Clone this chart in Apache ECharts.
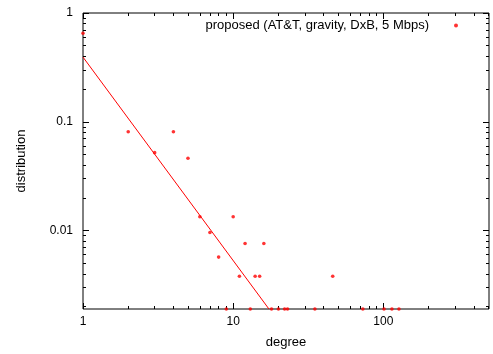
<!DOCTYPE html>
<html><head><meta charset="utf-8">
<script src="https://cdn.jsdelivr.net/npm/echarts@6/dist/echarts.min.js"></script>
<style>html,body{margin:0;padding:0;background:#fff}#c{width:493px;height:354px}</style>
</head><body><div id="c"></div>
<script>
// data
const degrees = [1, 2, 3, 4, 5, 6, 7, 8, 9, 10, 11, 12, 13, 14, 15, 16, 18, 20, 22, 23, 35, 46, 73, 101, 114, 127];
const distribution = [0.652, 0.081, 0.052, 0.081, 0.0462, 0.0134, 0.0096, 0.0057, 0.0019, 0.0134, 0.0038, 0.0076, 0.0019, 0.0038, 0.0038, 0.0076, 0.0019, 0.0019, 0.0019, 0.0019, 0.0019, 0.0038, 0.0019, 0.0019, 0.0019, 0.0019];
const fitX = [1, 17.3];
const fitY = [0.393, 0.0019];
const seriesName = 'proposed (AT&T, gravity, DxB, 5 Mbps)';
const xMajorTicks = [1, 10, 100];
const xTickLabels = ['1', '10', '100'];
const xMinorTicks = [2, 3, 4, 5, 6, 7, 8, 9, 20, 30, 40, 50, 60, 70, 80, 90, 200, 300, 400, 500];
const yMajorTicks = [0.01, 0.1, 1];
const yTickLabels = ['0.01', '0.1', '1'];
const yMinorTicks = [0.002, 0.003, 0.004, 0.005, 0.006, 0.007, 0.008, 0.009, 0.02, 0.03, 0.04, 0.05, 0.06, 0.07, 0.08, 0.09, 0.2, 0.3, 0.4, 0.5, 0.6, 0.7, 0.8, 0.9];
const X_MIN = 1, X_MAX = 505, Y_MIN = 0.0019, Y_MAX = 1;

const FONT = 'Liberation Sans, Arial, Helvetica, sans-serif';
function labelFor(ticks, labels) {
  return function (v) {
    let best = 0, bd = Infinity;
    ticks.forEach((t, i) => { const d = Math.abs(Math.log10(t) - Math.log10(v)); if (d < bd) { bd = d; best = i; } });
    return labels[best];
  };
}
function mkAxis(dim, pos, ticks, len, labels, name) {
  const isX = dim === 'x';
  const ax = {
    type: 'log', logBase: 10,
    min: isX ? X_MIN : Y_MIN, max: isX ? X_MAX : Y_MAX,
    position: pos,
    axisLine: { show: false },
    splitLine: { show: false },
    minorTick: { show: false },
    axisTick: { show: true, inside: true, length: len, customValues: ticks, lineStyle: { color: '#000', width: 1 } },
    axisLabel: { show: false },
    axisPointer: { show: false }
  };
  if (labels) {
    const majors = isX ? xMajorTicks : yMajorTicks;
    ax.axisLabel = {
      show: true, customValues: majors, formatter: labelFor(majors, labels),
      margin: isX ? 7 : 10, color: '#000', fontSize: 12, fontFamily: FONT
    };
  }
  if (name) {
    ax.name = name;
    ax.nameLocation = 'middle';
    ax.nameGap = isX ? 27 : 55;
    ax.nameTextStyle = { color: '#000', fontSize: 13, fontFamily: FONT };
  }
  return ax;
}

const chart = echarts.init(document.getElementById('c'), null, { renderer: 'canvas' });
chart.setOption({
  animation: false,
  backgroundColor: '#fff',
  grid: { left: 83, right: 4, top: 13, bottom: 44, show: true, borderColor: '#000', borderWidth: 1, backgroundColor: 'transparent' },
  legend: {
    right: 30, top: 14, align: 'right', itemWidth: 4, itemHeight: 4,
    data: [{ name: seriesName, icon: 'circle' }],
    textStyle: { color: '#000', fontSize: 13, fontFamily: FONT, padding: [0, 20, 0, 0] },
    selectedMode: false
  },
  xAxis: [
    mkAxis('x', 'bottom', xMajorTicks, 6, xTickLabels, 'degree'),
    mkAxis('x', 'bottom', xMinorTicks, 3),
    mkAxis('x', 'top', xMajorTicks, 6),
    mkAxis('x', 'top', xMinorTicks, 3)
  ],
  yAxis: [
    mkAxis('y', 'left', yMajorTicks, 6, yTickLabels, 'distribution'),
    mkAxis('y', 'left', yMinorTicks, 3),
    mkAxis('y', 'right', yMajorTicks, 6),
    mkAxis('y', 'right', yMinorTicks, 3)
  ],
  series: [
    {
      name: seriesName, type: 'scatter', xAxisIndex: 0, yAxisIndex: 0,
      symbol: 'circle', symbolSize: 3.6, clip: false,
      itemStyle: { color: '#ff0000' },
      data: degrees.map((d, i) => [d, distribution[i]])
    },
    {
      name: 'fit', type: 'line', xAxisIndex: 0, yAxisIndex: 0,
      showSymbol: false, symbol: 'none', clip: true,
      lineStyle: { color: '#ff0000', width: 1 },
      data: fitX.map((x, i) => [x, fitY[i]])
    }
  ]
});
</script></body></html>
